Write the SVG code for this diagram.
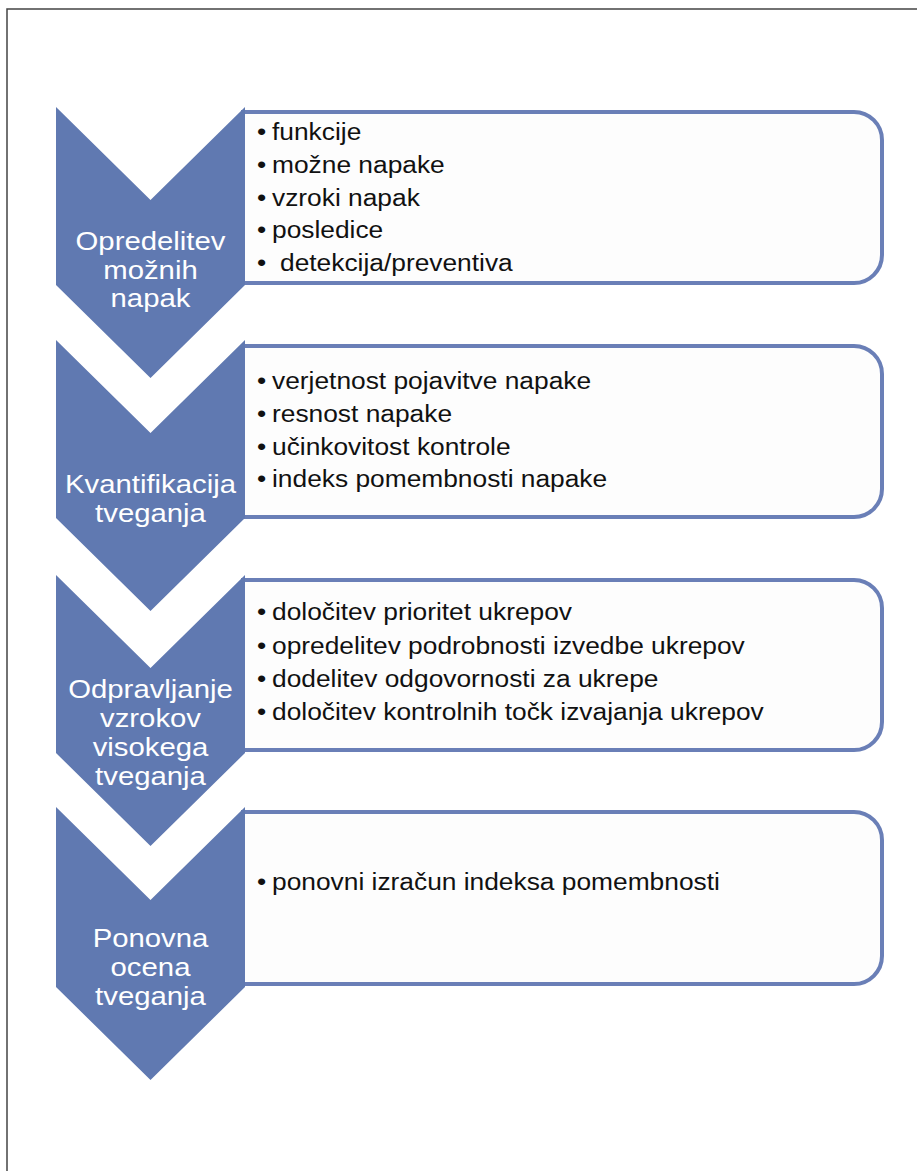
<svg xmlns="http://www.w3.org/2000/svg" width="917" height="1171" viewBox="0 0 917 1171">
<defs>
<style>
.chev{fill:#6079b1;}
.box{fill:#fdfdfd;stroke:#6a7fb7;stroke-width:4;}
.ct{font-family:"Liberation Sans",Arial,sans-serif;font-size:25.5px;fill:#ffffff;text-anchor:middle;}
.bt{font-family:"Liberation Sans",Arial,sans-serif;font-size:23px;fill:#111111;}
</style>
</defs>
<rect x="0" y="0" width="917" height="1171" fill="#ffffff"/>
<path d="M7,1171 V9 H917" fill="none" stroke="#444444" stroke-width="1.5"/>

<g id="step1">
<path class="box" d="M243,112 H854 A28,28 0 0 1 882,140 V255 A28,28 0 0 1 854,283 H243 Z"/>
<polygon class="chev" points="56,107 150.5,200 245,107 245,285 150.5,378 56,285"/>
<g transform="translate(150.5,0) scale(1.15,1)">
<text class="ct"><tspan x="0" y="250">Opredelitev</tspan><tspan x="0" y="279">možnih</tspan><tspan x="0" y="307">napak</tspan></text>
</g>
<g transform="translate(272,0) scale(1.145,1)">
<text class="bt" y="140"><tspan x="-13">•</tspan><tspan x="0">funkcije</tspan></text>
<text class="bt" y="173"><tspan x="-13">•</tspan><tspan x="0">možne napake</tspan></text>
<text class="bt" y="206"><tspan x="-13">•</tspan><tspan x="0">vzroki napak</tspan></text>
<text class="bt" y="238"><tspan x="-13">•</tspan><tspan x="0">posledice</tspan></text>
<text class="bt" y="271"><tspan x="-13">• </tspan><tspan x="7">detekcija/preventiva</tspan></text>
</g>
</g>

<g id="step2">
<path class="box" d="M243,346 H854 A28,28 0 0 1 882,374 V489 A28,28 0 0 1 854,517 H243 Z"/>
<polygon class="chev" points="56,340 150.5,433 245,340 245,518 150.5,611 56,518"/>
<g transform="translate(150.5,0) scale(1.15,1)">
<text class="ct"><tspan x="0" y="493">Kvantifikacija</tspan><tspan x="0" y="522">tveganja</tspan></text>
</g>
<g transform="translate(272,0) scale(1.145,1)">
<text class="bt" y="389"><tspan x="-13">•</tspan><tspan x="0">verjetnost pojavitve napake</tspan></text>
<text class="bt" y="422"><tspan x="-13">•</tspan><tspan x="0">resnost napake</tspan></text>
<text class="bt" y="455"><tspan x="-13">•</tspan><tspan x="0">učinkovitost kontrole</tspan></text>
<text class="bt" y="487"><tspan x="-13">•</tspan><tspan x="0">indeks pomembnosti napake</tspan></text>
</g>
</g>

<g id="step3">
<path class="box" d="M243,580 H854 A28,28 0 0 1 882,608 V722 A28,28 0 0 1 854,750 H243 Z"/>
<polygon class="chev" points="56,575 150.5,668 245,575 245,753 150.5,846 56,753"/>
<g transform="translate(150.5,0) scale(1.15,1)">
<text class="ct"><tspan x="0" y="698">Odpravljanje</tspan><tspan x="0" y="727">vzrokov</tspan><tspan x="0" y="756">visokega</tspan><tspan x="0" y="785">tveganja</tspan></text>
</g>
<g transform="translate(272,0) scale(1.145,1)">
<text class="bt" y="620"><tspan x="-13">•</tspan><tspan x="0">določitev prioritet ukrepov</tspan></text>
<text class="bt" y="654"><tspan x="-13">•</tspan><tspan x="0">opredelitev podrobnosti izvedbe ukrepov</tspan></text>
<text class="bt" y="687"><tspan x="-13">•</tspan><tspan x="0">dodelitev odgovornosti za ukrepe</tspan></text>
<text class="bt" y="720"><tspan x="-13">•</tspan><tspan x="0">določitev kontrolnih točk izvajanja ukrepov</tspan></text>
</g>
</g>

<g id="step4">
<path class="box" d="M243,812 H854 A28,28 0 0 1 882,840 V956 A28,28 0 0 1 854,984 H243 Z"/>
<polygon class="chev" points="56,807 150.5,900 245,807 245,987 150.5,1080 56,987"/>
<g transform="translate(150.5,0) scale(1.15,1)">
<text class="ct"><tspan x="0" y="947">Ponovna</tspan><tspan x="0" y="976">ocena</tspan><tspan x="0" y="1005">tveganja</tspan></text>
</g>
<g transform="translate(272,0) scale(1.145,1)">
<text class="bt" y="890"><tspan x="-13">•</tspan><tspan x="0">ponovni izračun indeksa pomembnosti</tspan></text>
</g>
</g>

<g id="connectors"></g>
</svg>
